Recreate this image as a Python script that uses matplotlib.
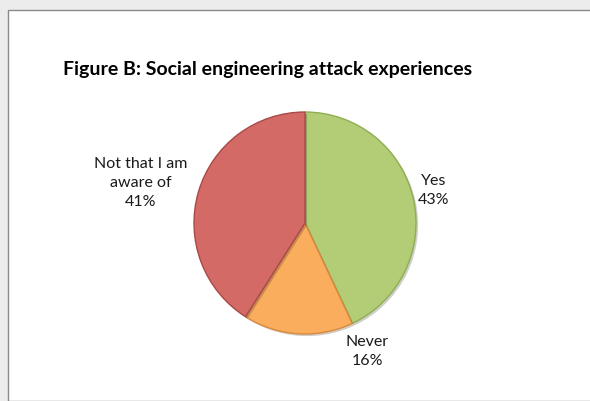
import matplotlib
matplotlib.use("Agg")
import matplotlib.pyplot as plt
from matplotlib.patches import Rectangle
import matplotlib.patheffects as pe
import numpy as np

# data
categories = ["Yes", "Never", "Not that I am\naware of"]
shares = [43, 16, 41]
colors = ["#b3cd76", "#f9ad5d", "#d46a66"]
edges = ["#8fae52", "#d98a3c", "#a84a47"]
# label offsets (axes data units, pie radius = 1)
label_pos = [(1.16, 0.29), (0.56, -1.16), (-1.48, 0.36)]

plt.rcParams['font.family'] = ['Lato', 'DejaVu Sans']

W, H = 590, 401
fig = plt.figure(figsize=(W / 100, H / 100), dpi=100)
fig.patch.set_facecolor("#ececec")

# chart frame
frame = Rectangle((8 / W, 0), 1, 1 - 10 / H, transform=fig.transFigure,
                  facecolor="white", edgecolor="#8a8a8a", linewidth=1.0, zorder=-5)
fig.patches.append(frame)

fig.text(268 / W, 1 - 70 / H, "Figure B: Social engineering attack experiences",
         ha="center", va="center", fontsize=14, fontweight="bold", color="black")

cx, cy, r = 305, 223, 111
ax = fig.add_axes([(cx - r) / W, 1 - (cy + r) / H, 2 * r / W, 2 * r / H])

wedges, _ = ax.pie(shares, colors=colors, startangle=90, counterclock=False,
                   radius=1, wedgeprops=dict(linewidth=1.0))
ax.set_xlim(-1, 1)
ax.set_ylim(-1, 1)
ax.axis("off")
for w, ec in zip(wedges, edges):
    w.set_edgecolor(ec)
    w.set_path_effects([pe.SimplePatchShadow(offset=(1.5, -1.5), alpha=0.25),
                        pe.Normal()])

for cat, val, (lx, ly) in zip(categories, shares, label_pos):
    ax.text(lx, ly, "%s\n%d%%" % (cat, val), ha="center", va="center",
            fontsize=11.5, color="#1a1a1a", linespacing=1.45, clip_on=False)

fig.savefig("out.png", dpi=100, facecolor=fig.get_facecolor())
